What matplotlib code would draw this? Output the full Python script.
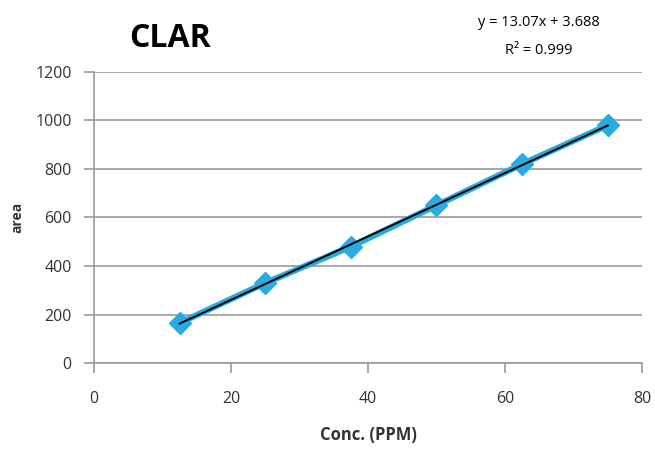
import numpy as np
import matplotlib.pyplot as plt

conc = [12.5, 25, 37.5, 50, 62.5, 75]
area = [165, 330, 480, 650, 820, 980]
x_ticks = [0, 20, 40, 60, 80]
y_ticks = [0, 200, 400, 600, 800, 1000, 1200]

plt.rcParams['font.family'] = ['Open Sans', 'DejaVu Sans']

fig = plt.figure(figsize=(6.55, 4.55), dpi=100)
ax = fig.add_axes([0.1435, 0.202, 0.8366, 0.640])

ax.plot(conc, area, color='#29ABE2', lw=4.5, marker='D', ms=11,
        mec='#29ABE2', mfc='#29ABE2', zorder=3)

# linear trendline
m, b = np.polyfit(conc, area, 1)
xs = np.array([conc[0], conc[-1]])
ax.plot(xs, m * xs + b, color='black', lw=1.4, zorder=4)

ax.set_xlim(0, 80)
ax.set_ylim(0, 1200)
ax.set_xticks(x_ticks)
ax.set_yticks(y_ticks)
ax.grid(axis='y', color='#9a9a9a', lw=1.2)
ax.set_axisbelow(True)
for s in ['top', 'right']:
    ax.spines[s].set_visible(False)
for s in ['left', 'bottom']:
    ax.spines[s].set_color('#9a9a9a')
    ax.spines[s].set_linewidth(1.2)
ax.tick_params(colors='#9a9a9a', labelcolor='#333333', labelsize=11.5,
               length=7, width=1.2, direction='out')
ax.tick_params(axis='x', pad=13)
ax.tick_params(axis='y', pad=9)

ax.set_xlabel('Conc. (PPM)', fontsize=12, fontweight='bold', color='#333333', labelpad=14)
ax.set_ylabel('area', fontsize=10, fontweight='bold', color='#333333', labelpad=8)

fig.text(0.26, 0.915, 'CLAR', fontsize=23, fontweight='bold', ha='center', va='center')
fig.text(0.822, 0.950, 'y = 13.07x + 3.688', fontsize=10.5, ha='center', va='center')
fig.text(0.822, 0.890, 'R² = 0.999', fontsize=10.5, ha='center', va='center')

fig.savefig('out.png', dpi=100)
